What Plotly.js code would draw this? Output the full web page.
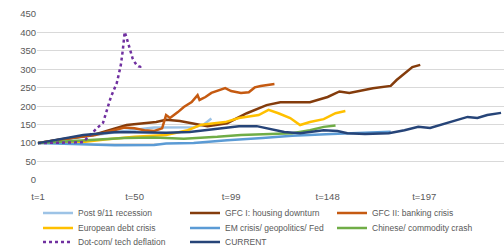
<!DOCTYPE html>
<html>
<head>
<meta charset="utf-8">
<script src="https://cdn.plot.ly/plotly-3.0.1.min.js"></script>
<style>html,body{margin:0;padding:0;background:#fff;}#chart{width:504px;height:249px;}</style>
</head>
<body>
<div id="chart"></div>
<script>
// Tick labels
const tickVals = [1, 50, 99, 148, 197, 246];
const tickLabels = ["t=1", "t=50", "t=99", "t=148", "t=197", "t=246"];

// Series names
const names = [
  "Post 9/11 recession", "GFC I: housing downturn", "GFC II: banking crisis",
  "European debt crisis", "EM crisis/ geopolitics/ Fed", "Chinese/ commodity crash",
  "Dot-com/ tech deflation", "CURRENT"
];

// Post 9/11 recession
const post911T = [1, 10, 20, 30, 40, 50, 60, 70, 80, 85, 89];
const post911V = [100, 106, 114, 122, 130, 136, 142, 143, 143, 150, 167];

// GFC I: housing downturn
const gfc1T = [1, 12, 29, 46, 61, 66, 73, 83, 87, 97, 107, 117, 124, 139, 148, 154, 159, 171, 180, 183, 191, 195];
const gfc1V = [100, 110, 122, 149, 157, 163, 160, 149, 146, 154, 181, 203, 211, 211, 225, 240, 236, 249, 255, 271, 306, 312];

// GFC II: banking crisis
const gfc2T = [1, 10, 20, 30, 35, 40, 45, 50, 55, 60, 64, 66, 68, 72, 75, 79, 82, 83, 86, 89, 94, 96, 99, 104, 108, 111, 114, 118, 121];
const gfc2V = [100, 108, 115, 122, 128, 134, 142, 140, 135, 133, 140, 176, 168, 184, 198, 211, 230, 217, 225, 236, 246, 249, 241, 236, 238, 251, 255, 257, 260];

// European debt crisis
const euroT = [1, 10, 25, 35, 50, 66, 77, 84, 96, 103, 113, 118, 123, 129, 134, 139, 146, 152, 157];
const euroV = [100, 102, 104, 110, 117, 122, 135, 150, 157, 168, 176, 190, 181, 168, 149, 157, 165, 181, 187];

// EM crisis/ geopolitics/ Fed
const emT = [1, 20, 40, 60, 66, 80, 97, 115, 130, 150, 165, 180];
const emV = [100, 97, 94, 95, 99, 100, 108, 114, 120, 125, 127, 131];

// Chinese/ commodity crash
const chinaT = [1, 15, 30, 45, 60, 75, 92, 104, 130, 139, 146, 152];
const chinaV = [100, 105, 110, 114, 115, 112, 117, 122, 127, 135, 144, 148];

// Dot-com/ tech deflation
const dotT = [1, 5, 10, 15, 20, 24, 28, 31, 34, 36, 38, 41, 43, 44, 45, 46, 47, 48, 49, 50, 51, 52, 53, 54];
const dotV = [100, 100, 101, 102, 102, 103, 125, 141, 155, 190, 225, 263, 310, 350, 401, 385, 365, 345, 330, 320, 312, 308, 307, 312];

// CURRENT
const curT = [1, 12, 24, 41, 66, 78, 103, 112, 126, 134, 146, 153, 158, 167, 179, 187, 194, 200, 205, 209, 219, 224, 229, 236];
const curV = [100, 110, 122, 130, 128, 130, 146, 146, 130, 127, 135, 133, 127, 125, 127, 135, 144, 141, 149, 157, 171, 168, 176, 182];

const colors = ["#9DC3E6", "#843C0C", "#C55A11", "#FFC000", "#5B9BD5", "#70AD47", "#7030A0", "#264478"];
const xs = [post911T, gfc1T, gfc2T, euroT, emT, chinaT, dotT, curT];
const ys = [post911V, gfc1V, gfc2V, euroV, emV, chinaV, dotV, curV];
const legendRow = ["legend", "legend", "legend", "legend2", "legend2", "legend2", "legend3", "legend3"];

const traces = names.map((n, i) => ({
  type: "scatter", mode: "lines", name: n, x: xs[i], y: ys[i], legend: legendRow[i],
  line: {color: colors[i], width: 2.5, dash: i === 6 ? "dot" : "solid"}
}));

function legendAt(yPx) {
  return {
    orientation: "h", xref: "container", yref: "container",
    x: 38 / 504, xanchor: "left", y: 1 - yPx / 249, yanchor: "middle",
    entrywidth: 102, entrywidthmode: "pixels",
    font: {size: 8.5, color: "#595959"}, itemwidth: 30,
    bgcolor: "rgba(0,0,0,0)"
  };
}

const layout = {
  width: 504, height: 249,
  margin: {l: 37, r: 0, t: 14, b: 69, autoexpand: false},
  paper_bgcolor: "#fff", plot_bgcolor: "#fff",
  font: {family: "Liberation Sans, Arial, sans-serif", color: "#595959", size: 9.5},
  xaxis: {
    range: [0.5, 237.5], tickvals: tickVals, ticktext: tickLabels,
    showgrid: false, zeroline: false, showline: false, ticks: "",
    tickfont: {size: 9.5, color: "#595959"}, automargin: false, ticklabelstandoff: 9
  },
  yaxis: {
    range: [0, 450], dtick: 50, showgrid: true, gridcolor: "#d9d9d9", gridwidth: 1,
    zeroline: false, ticks: "", tickfont: {size: 9.5, color: "#595959"}, automargin: false
  },
  showlegend: true,
  legend: legendAt(213),
  legend2: legendAt(228),
  legend3: legendAt(242)
};

Plotly.newPlot("chart", traces, layout, {staticPlot: true, displayModeBar: false});
</script>
</body>
</html>
